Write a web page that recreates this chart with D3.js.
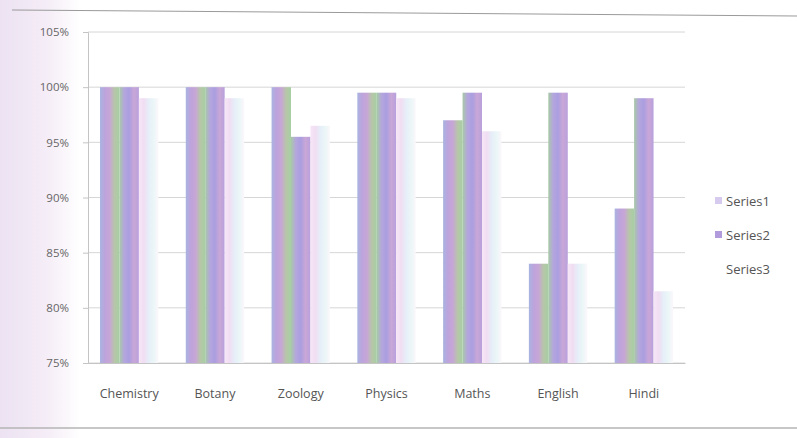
<!DOCTYPE html>
<html>
<head>
<meta charset="utf-8">
<script src="https://cdn.jsdelivr.net/npm/d3@7"></script>
<style>
  html, body { margin: 0; padding: 0; background: #fff; }
  svg { display: block; }
  text { font-family: "Open Sans", Lato, sans-serif; }
</style>
</head>
<body>
<svg id="chart" width="797" height="438"></svg>
<script>
const categories = ["Chemistry", "Botany", "Zoology", "Physics", "Maths", "English", "Hindi"];
const seriesNames = ["Series1", "Series2", "Series3"];
const series1 = [100, 100, 100, 99.5, 97, 84, 89];
const series2 = [100, 100, 95.5, 99.5, 99.5, 99.5, 99];
const series3 = [99, 99, 96.5, 99, 96, 84, 81.5];
const yTicks = [75, 80, 85, 90, 95, 100, 105];

const svg = d3.select("#chart");
const W = 797, H = 438;
const margin = { left: 88, right: 112, top: 32, bottom: 75 };
const plotW = W - margin.left - margin.right;
const plotH = H - margin.top - margin.bottom;

const defs = svg.append("defs");
const bg = defs.append("linearGradient").attr("id", "bgTint").attr("x1", 0).attr("x2", 1);
bg.append("stop").attr("offset", 0).attr("stop-color", "#ece2f2");
bg.append("stop").attr("offset", 0.06).attr("stop-color", "#f5edf7");
bg.append("stop").attr("offset", 0.1).attr("stop-color", "#ffffff");
bg.append("stop").attr("offset", 1).attr("stop-color", "#ffffff");

function rainbow(id, stops) {
  const g = defs.append("linearGradient").attr("id", id).attr("x1", 0).attr("x2", 1).attr("y1", 0).attr("y2", 0);
  stops.forEach((c, i) => g.append("stop").attr("offset", i / (stops.length - 1)).attr("stop-color", c));
}
rainbow("g1", ["#a9b4e0", "#bda3dc", "#c7a6d6", "#b7c6a8", "#a6cfa4"]);
rainbow("g2", ["#a7c9a6", "#b4a6dd", "#ab9ee0", "#c9a7d7", "#b8a0dc"]);
rainbow("g3", ["#f6e6f6", "#f1ddf3", "#e6eef8", "#eaf6f7", "#fbf7fb"]);

svg.append("rect").attr("width", W).attr("height", H).attr("fill", "url(#bgTint)");

svg.append("line").attr("x1", 12).attr("x2", W).attr("y1", 10).attr("y2", 16)
  .attr("stroke", "#9a9a9a").attr("stroke-width", 1);
svg.append("line").attr("x1", 0).attr("x2", W).attr("y1", 428).attr("y2", 428)
  .attr("stroke", "#b5b5b5").attr("stroke-width", 1.5);

const g = svg.append("g").attr("transform", `translate(${margin.left},${margin.top})`);

const x0 = d3.scaleBand().domain(categories).range([0, plotW]).paddingInner(0.32).paddingOuter(0.14);
const x1 = d3.scaleBand().domain(seriesNames).range([0, x0.bandwidth()]);
const y = d3.scaleLinear().domain([75, 105]).range([plotH, 0]);

g.append("g").selectAll("line").data(yTicks).join("line")
  .attr("x1", 0).attr("x2", plotW)
  .attr("y1", d => y(d)).attr("y2", d => y(d))
  .attr("stroke", "#d6d6d6").attr("stroke-width", 1);

const yAxis = g.append("g").call(d3.axisLeft(y).tickValues(yTicks).tickFormat(d => d + "%").tickSize(5).tickPadding(14));
yAxis.select(".domain").attr("stroke", "#c4c4c4");
yAxis.selectAll(".tick line").attr("stroke", "#c4c4c4");
yAxis.selectAll("text").attr("fill", "#666").style("font-size", "11.5px");

const data = categories.map((c, i) => ({ cat: c, vals: [series1[i], series2[i], series3[i]] }));
const fills = ["url(#g1)", "url(#g2)", "url(#g3)"];

const groups = g.append("g").selectAll("g").data(data).join("g")
  .attr("transform", d => `translate(${x0(d.cat)},0)`);
groups.selectAll("rect").data(d => d.vals.map((v, k) => ({ v, k }))).join("rect")
  .attr("x", d => x1(seriesNames[d.k]))
  .attr("width", x1.bandwidth())
  .attr("y", d => y(d.v))
  .attr("height", d => plotH - y(d.v))
  .attr("fill", d => fills[d.k]);

const xAxis = g.append("g").attr("transform", `translate(0,${plotH})`)
  .call(d3.axisBottom(x0).tickSize(0).tickPadding(26));
xAxis.select(".domain").attr("stroke", "#c4c4c4");
xAxis.selectAll("text").attr("fill", "#555").style("font-size", "12.5px");

const legendColors = ["#d6cbee", "#b19bdc", "#ffffff"];
const leg = svg.append("g").attr("transform", "translate(715,201)");
seriesNames.forEach((s, i) => {
  const row = leg.append("g").attr("transform", `translate(0,${i * 34})`);
  row.append("rect").attr("x", 0).attr("y", -4).attr("width", 7).attr("height", 7).attr("fill", legendColors[i]);
  row.append("text").attr("x", 11).attr("y", 0).attr("dy", "0.35em")
    .attr("fill", "#555").style("font-size", "13px").text(s);
});
</script>
</body>
</html>
